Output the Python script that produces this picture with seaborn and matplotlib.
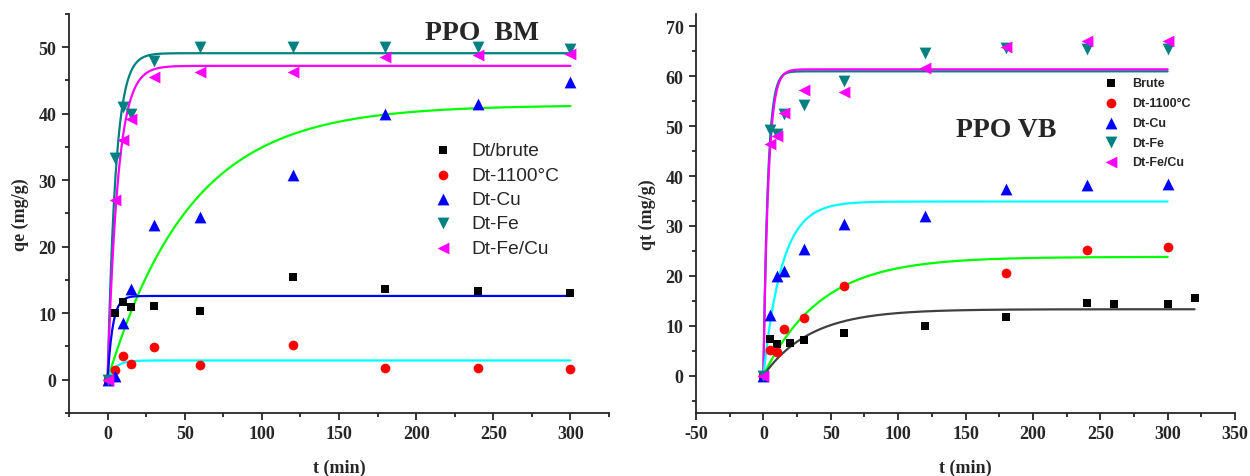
import numpy as np
import pandas as pd
import matplotlib
matplotlib.use("Agg")
import matplotlib.pyplot as plt
from matplotlib.ticker import MultipleLocator
import seaborn as sns

# ---------------- PPO BM : measured uptake ----------------
bm_labels = ["Dt/brute", "Dt-1100°C", "Dt-Cu", "Dt-Fe", "Dt-Fe/Cu"]
bm_t = [0, 5, 10, 15, 30, 60, 120, 180, 240, 300]
bm_brute = [0, 10.1, 11.7, 11.0, 11.1, 10.3, 15.5, 13.7, 13.4, 13.0]
bm_1100 = [0, 1.5, 3.5, 2.3, 4.9, 2.2, 5.2, 1.8, 1.7, 1.6]
bm_cu = [0, 0.5, 8.5, 13.6, 23.3, 24.4, 30.8, 40.0, 41.5, 44.7]
bm_fe = [0, 33.3, 41.0, 39.9, 48.0, 50.0, 50.1, 50.0, 50.1, 49.8]
bm_fecu = [0, 27.0, 36.0, 39.2, 45.5, 46.2, 46.3, 48.5, 48.8, 49.0]

# pseudo-first-order fits q(t) = qe * (1 - exp(-k t))
bm_fit_qe = [49.1, 47.2, 41.3, 12.6, 2.9]
bm_fit_k = [0.19, 0.15, 0.0187, 0.30, 0.20]
bm_fit_colors = ["#008080", "#FF00FF", "#00FF00", "#0000FF", "#00FFFF"]
bm_fit_tmax = [300, 300, 300, 300, 300]

# ---------------- PPO VB : measured uptake ----------------
vb_labels = ["Brute", "Dt-1100°C", "Dt-Cu", "Dt-Fe", "Dt-Fe/Cu"]
vb_brute_t = [0, 5, 10, 20, 30, 60, 120, 180, 240, 260, 300, 320]
vb_brute = [0, 7.4, 6.3, 6.5, 7.1, 8.5, 9.9, 11.7, 14.6, 14.4, 14.4, 15.5]
vb_t = [0, 5, 10, 15, 30, 60, 120, 180, 240, 300]
vb_1100_t = [0, 5, 10, 15, 30, 60, 180, 240, 300]
vb_1100 = [0, 5.2, 4.8, 9.4, 11.5, 18.0, 20.5, 25.2, 25.7]
vb_cu = [0, 12.2, 20.0, 20.9, 25.3, 30.3, 32.0, 37.4, 38.2, 38.4]
vb_fe = [0, 49.3, 48.4, 52.4, 54.2, 59.0, 64.7, 65.7, 65.5, 65.5]
vb_fecu = [0, 46.5, 48.1, 52.6, 57.2, 56.8, 61.6, 65.9, 67.1, 67.1]

vb_fit_qe = [61.0, 61.4, 34.9, 23.8, 13.3]
vb_fit_k = [0.30, 0.27, 0.072, 0.0235, 0.0286]
vb_fit_colors = ["#008080", "#FF00FF", "#00FFFF", "#00FF00", "#404040"]
vb_fit_tmax = [300, 300, 300, 300, 320]

marker_colors = ["#000000", "#FF0000", "#0000FF", "#008080", "#FF00FF"]
marker_shapes = ["s", "o", "^", "v", "<"]
marker_sizes = [6.0, 7.0, 8.5, 8.5, 8.5]

sns.set_style("ticks")
plt.rcParams["font.family"] = ["Liberation Serif", "DejaVu Serif"]
plt.rcParams["font.weight"] = "bold"
plt.rcParams["axes.unicode_minus"] = False
plt.rcParams["axes.linewidth"] = 1.3
plt.rcParams["xtick.major.width"] = 1.3
plt.rcParams["ytick.major.width"] = 1.3
plt.rcParams["xtick.minor.width"] = 1.3
plt.rcParams["ytick.minor.width"] = 1.3

fig = plt.figure(figsize=(12.5, 4.77), dpi=100)
ax1 = fig.add_axes([0.0552, 0.1321, 0.432, 0.8365])
ax2 = fig.add_axes([0.5568, 0.1321, 0.4312, 0.8365])


def draw_fits(ax, qe_list, k_list, colors, tmax_list):
    for qe, k, c, tmax in zip(qe_list, k_list, colors, tmax_list):
        tt = np.linspace(0, tmax, 600)
        qq = qe * (1.0 - np.exp(-k * tt))
        sns.lineplot(x=tt, y=qq, color=c, lw=1.6, ax=ax, legend=False,
                     estimator=None, sort=False, zorder=2)


def draw_points(ax, series, labels):
    for (t, q), lab, mk, c, ms in zip(series, labels, marker_shapes,
                                      marker_colors, marker_sizes):
        sns.scatterplot(x=t, y=q, marker=mk, color=c, s=ms ** 2,
                        linewidth=0, label=lab, ax=ax, zorder=3)


def style_axis(ax, xlim, ylim, xlabel, ylabel):
    ax.set_xlim(*xlim)
    ax.set_ylim(*ylim)
    ax.xaxis.set_major_locator(MultipleLocator(50))
    ax.xaxis.set_minor_locator(MultipleLocator(25))
    ax.yaxis.set_major_locator(MultipleLocator(10))
    ax.yaxis.set_minor_locator(MultipleLocator(5))
    ax.tick_params(which="major", direction="out", length=5, pad=4,
                   labelsize=13)
    ax.tick_params(which="minor", direction="out", length=2.6)
    for lab in ax.get_xticklabels() + ax.get_yticklabels():
        lab.set_fontweight("bold")
    ax.set_xlabel(xlabel, fontsize=13, fontweight="bold", labelpad=12)
    ax.set_ylabel(ylabel, fontsize=13, fontweight="bold", labelpad=7)
    sns.despine(ax=ax)


# ---- left panel ----
draw_fits(ax1, bm_fit_qe, bm_fit_k, bm_fit_colors, bm_fit_tmax)
draw_points(ax1, [(bm_t, bm_brute), (bm_t, bm_1100), (bm_t, bm_cu),
                  (bm_t, bm_fe), (bm_t, bm_fecu)], bm_labels)
style_axis(ax1, (-25, 325), (-5, 55), "t (min)", "qe (mg/g)")
ax1.text(243, 51.2, "PPO  BM", fontsize=20, fontweight="bold",
         ha="center", va="baseline")
h, l = ax1.get_legend_handles_labels()
ax1.legend(h, l, loc="upper left", bbox_to_anchor=(0.6567, 0.703),
           frameon=False, borderpad=0, handlelength=1.0, handletextpad=1.0,
           labelspacing=0.36,
           prop={"family": "Liberation Sans", "size": 13.8, "weight": "normal"})

# ---- right panel ----
draw_fits(ax2, vb_fit_qe, vb_fit_k, vb_fit_colors, vb_fit_tmax)
draw_points(ax2, [(vb_brute_t, vb_brute), (vb_1100_t, vb_1100), (vb_t, vb_cu),
                  (vb_t, vb_fe), (vb_t, vb_fecu)], vb_labels)
style_axis(ax2, (-50, 350), (-7.5, 72.5), "t (min)", "qt (mg/g)")
ax2.text(180, 48.0, "PPO VB", fontsize=20, fontweight="bold",
         ha="center", va="baseline")
h, l = ax2.get_legend_handles_labels()
ax2.legend(h, l, loc="upper left", bbox_to_anchor=(0.7466, 0.857),
           frameon=False, borderpad=0, handlelength=1.0, handletextpad=1.2,
           labelspacing=0.62,
           prop={"family": "Liberation Sans", "size": 9, "weight": "bold"})

fig.savefig("out.png", dpi=100)
